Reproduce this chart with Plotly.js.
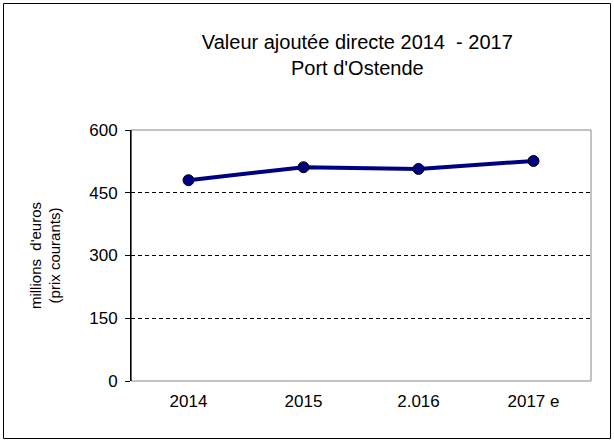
<!DOCTYPE html>
<html><head><meta charset="utf-8">
<script src="https://cdn.plot.ly/plotly-3.0.1.min.js"></script>
<style>html,body{margin:0;padding:0;background:#fff}#c{width:614px;height:444px}</style>
</head><body><div id="c"></div>
<script>
const categories = ["2014", "2015", "2.016", "2017 e"];
const values = [480, 511, 507, 526];
const yTicks = [0, 150, 300, 450, 600];

const L = 131, R = 23, T = 130, B = 63, W = 614, H = 444;
const pw = W - L - R, ph = H - T - B;
const px = v => (v - L) / pw;
const py = v => (H - B - v) / ph;

const trace = {
  x: categories, y: values, type: 'scatter', mode: 'lines+markers',
  line: {color: '#000080', width: 4},
  marker: {color: '#000080', size: 11, line: {color: '#000000', width: 1}},
  cliponaxis: false
};
const layout = {
  width: W, height: H,
  margin: {l: L, r: R, t: T, b: B},
  paper_bgcolor: '#fff', plot_bgcolor: '#fff',
  font: {family: 'Liberation Sans, Arial, sans-serif', color: '#000', size: 16},
  showlegend: false,
  title: {text: "Valeur ajoutée directe 2014 \u00a0- 2017<br>Port d'Ostende", x: 0.582, xanchor: 'center', y: 0.889, yanchor: 'top', font: {size: 20}},
  xaxis: {type: 'category', range: [-0.5, 3.5], showgrid: false, zeroline: false, showline: false, ticks: '', tickfont: {size: 17}, ticklabelstandoff: 8},
  yaxis: {range: [0, 600], tickvals: yTicks, ticktext: yTicks.map(String), showgrid: true, gridcolor: '#000', griddash: '4px,3px', gridwidth: 1,
    zeroline: false, showline: true, linecolor: '#000', linewidth: 1, ticks: 'outside', ticklen: 5, tickcolor: '#000',
    tickfont: {size: 17}, ticklabelstandoff: 4,
    title: {text: "millions  d'euros<br>(prix courants)", font: {size: 15}, standoff: 24}},
  shapes: [
    {type: 'rect', xref: 'paper', yref: 'paper', x0: 0, x1: 1, y0: 0, y1: 1, line: {color: '#888', width: 1}, layer: 'below'},
    {type: 'line', xref: 'paper', yref: 'paper', x0: 0, x1: 0, y0: 0, y1: 1, line: {color: '#000', width: 1}},
    {type: 'rect', xref: 'paper', yref: 'paper', x0: px(3.5), x1: px(610.5), y0: py(3.5), y1: py(438.5), line: {color: '#000', width: 1}}
  ]
};
Plotly.newPlot('c', [trace], layout, {displayModeBar: false, staticPlot: true});
</script></body></html>
